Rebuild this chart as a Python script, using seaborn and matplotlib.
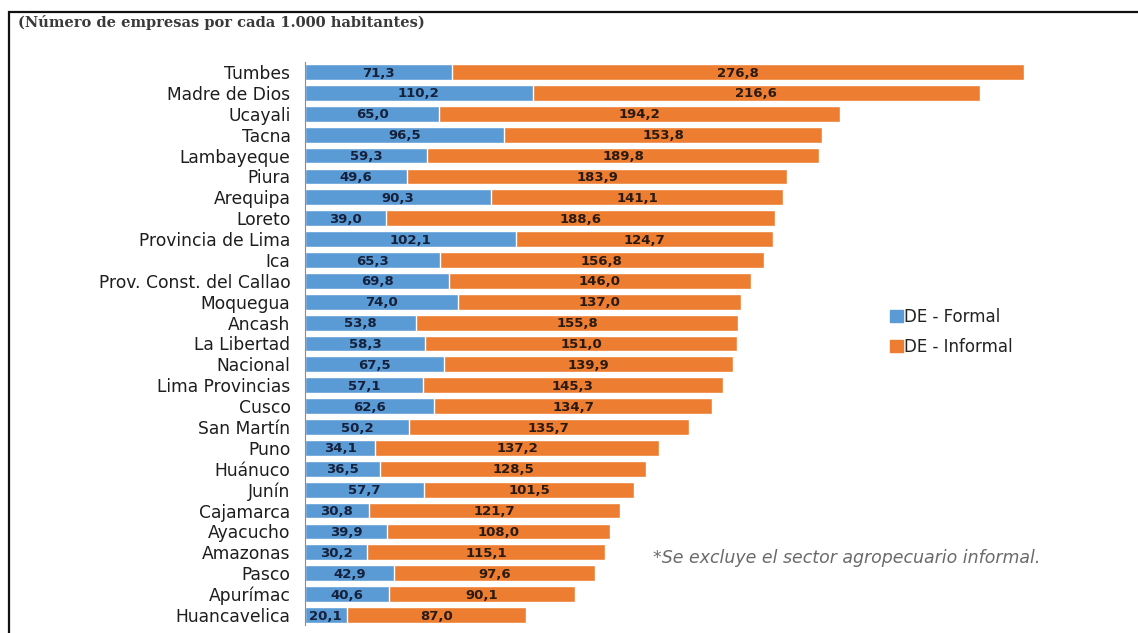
import matplotlib
matplotlib.use("Agg")
import matplotlib.pyplot as plt
import matplotlib.patches as mpatches
import pandas as pd
import seaborn as sns

# datos: empresas por cada 1.000 habitantes
regiones = ["Tumbes", "Madre de Dios", "Ucayali", "Tacna", "Lambayeque", "Piura",
            "Arequipa", "Loreto", "Provincia de Lima", "Ica", "Prov. Const. del Callao",
            "Moquegua", "Ancash", "La Libertad", "Nacional", "Lima Provincias", "Cusco",
            "San Martín", "Puno", "Huánuco", "Junín", "Cajamarca", "Ayacucho",
            "Amazonas", "Pasco", "Apurímac", "Huancavelica"]
formal = [71.3, 110.2, 65.0, 96.5, 59.3, 49.6, 90.3, 39.0, 102.1, 65.3, 69.8, 74.0,
          53.8, 58.3, 67.5, 57.1, 62.6, 50.2, 34.1, 36.5, 57.7, 30.8, 39.9, 30.2,
          42.9, 40.6, 20.1]
informal = [276.8, 216.6, 194.2, 153.8, 189.8, 183.9, 141.1, 188.6, 124.7, 156.8,
            146.0, 137.0, 155.8, 151.0, 139.9, 145.3, 134.7, 135.7, 137.2, 128.5,
            101.5, 121.7, 108.0, 115.1, 97.6, 90.1, 87.0]
series = ["DE - Formal", "DE - Informal"]

AZUL = "#5B9BD5"
NARANJA = "#ED7D31"

df = pd.DataFrame({"region": regiones, "formal": formal, "informal": informal})
df["total"] = df["formal"] + df["informal"]

sns.set_theme(style="white")
plt.rcParams["font.family"] = ["DejaVu Sans"]

fig = plt.figure(figsize=(11.38, 6.33), dpi=100)
W, H = 1138, 633
ax = fig.add_axes([305 / W, 1 - 625 / H, 826 / W, (625 - 62) / H])

# barras apiladas: total (naranja) y encima la parte formal (azul)
sns.barplot(data=df, x="total", y="region", color=NARANJA, width=0.76,
            orient="h", ax=ax, saturation=1)
sns.barplot(data=df, x="formal", y="region", color=AZUL, width=0.76,
            orient="h", ax=ax, saturation=1)

fmt = lambda v: f"{v:.1f}".replace(".", ",")
for i, row in df.iterrows():
    ax.text(row["formal"] / 2, i + 0.05, fmt(row["formal"]), ha="center", va="center",
            fontsize=9.5, fontweight="bold", color="#15203a")
    ax.text(row["formal"] + row["informal"] / 2, i + 0.05, fmt(row["informal"]),
            ha="center", va="center", fontsize=9.5, fontweight="bold", color="#2a1a12")

ax.set_xlim(0, 400)
ax.set_ylim(26.48, -0.48)
ax.set_xlabel("")
ax.set_ylabel("")
ax.set_xticks([])
ax.tick_params(axis="y", length=0, pad=10.5, labelsize=12.3, labelcolor="#1e1e1e")
for s in ["top", "right", "bottom"]:
    ax.spines[s].set_visible(False)
ax.spines["left"].set_color("#8c8c8c")
ax.spines["left"].set_linewidth(0.8)

handles = [mpatches.Patch(color=AZUL, label=series[0]),
           mpatches.Patch(color=NARANJA, label=series[1])]
fig.legend(handles=handles, loc="center left", bbox_to_anchor=(890 / W, 1 - 332 / H),
           frameon=False, fontsize=12, handlelength=0.75, handleheight=0.75,
           handletextpad=0.1, labelspacing=0.72, borderpad=0, borderaxespad=0,
           labelcolor="#222222")

fig.text(18 / W, 1 - 22 / H, "(Número de empresas por cada 1.000 habitantes)",
         fontsize=10.5, fontweight="bold", family=["DejaVu Serif"], color="#3a3a3a",
         va="center", ha="left")
fig.text(653 / W, 1 - 558 / H, "*Se excluye el sector agropecuario informal.",
         fontsize=12.5, style="italic", color="#6a6a6a", va="center", ha="left")

# marco de la figura (solo lados superior e izquierdo visibles)
fig.add_artist(mpatches.Rectangle((9 / W, -0.05), 1.2, 1 - 12 / H + 0.05,
                                  transform=fig.transFigure, fill=False,
                                  edgecolor="#111111", linewidth=1.6))

fig.savefig("out.png", dpi=100)
